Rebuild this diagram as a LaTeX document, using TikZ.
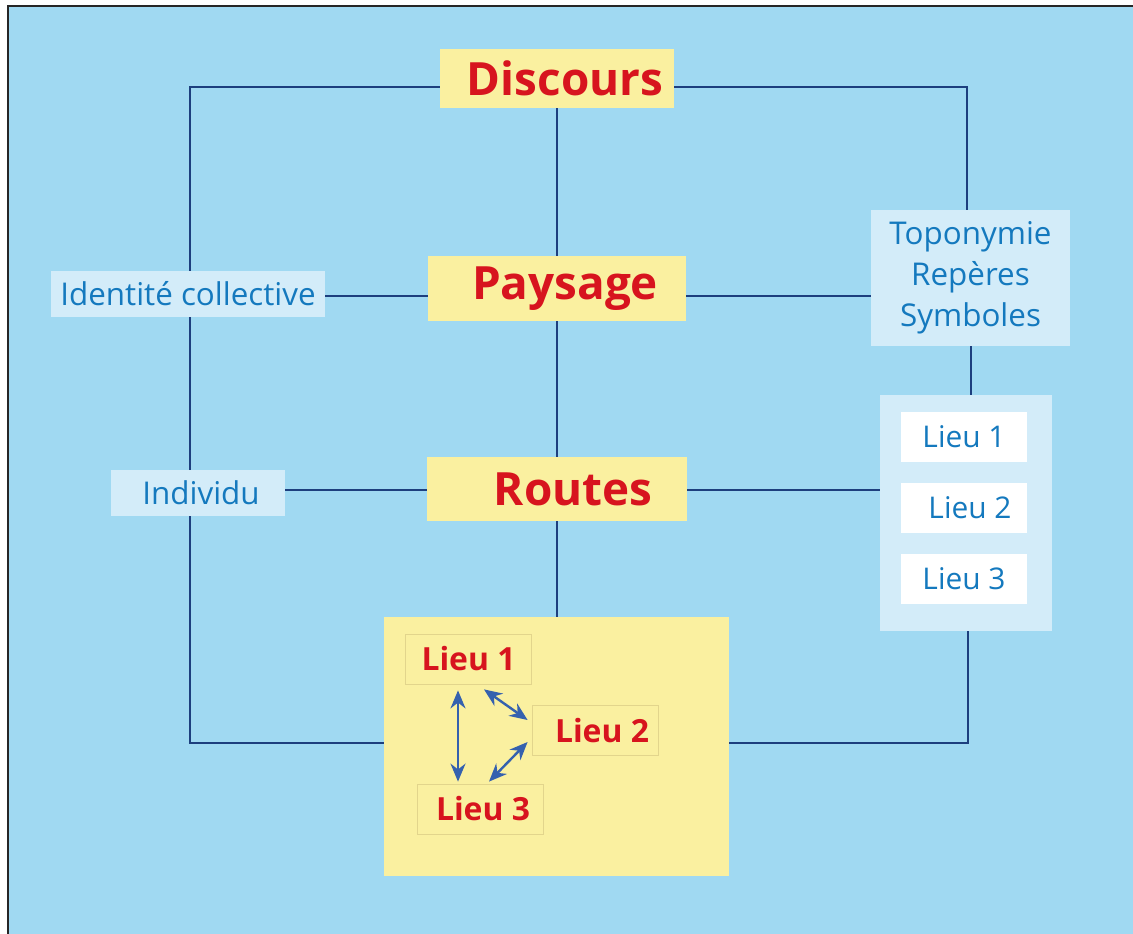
\documentclass[tikz,border=0pt]{standalone}
\usepackage{fontspec}
\setmainfont{Open Sans}
\usetikzlibrary{arrows.meta,calc}
\definecolor{bgblue}{HTML}{A0D9F2}
\definecolor{yel}{HTML}{FAF0A0}
\definecolor{lbox}{HTML}{D3ECF9}
\definecolor{tblue}{HTML}{1479BE}
\definecolor{tred}{HTML}{D7141E}
\definecolor{navy}{HTML}{1D3F7E}
\definecolor{arrblue}{HTML}{3561AE}
\definecolor{tan}{HTML}{E2D58C}
\pgfdeclarelayer{back}
\pgfdeclarelayer{mid}
\pgfsetlayers{back,mid,main}
\begin{document}
\begin{tikzpicture}[x=1bp,y=-1bp,
  mainbox/.style={fill=yel, inner sep=0pt, text=tred, font=\fontsize{46}{46}\selectfont\bfseries},
  bluebox/.style={fill=lbox, inner sep=0pt, text=tblue, font=\fontsize{31.5}{41}\selectfont},
  whitebox/.style={fill=white, inner sep=0pt, text=tblue, font=\fontsize{30}{30}\selectfont, minimum width=126bp, minimum height=50bp},
  redbox/.style={fill=yel, draw=tan, line width=0.8bp, inner sep=0pt, text=tred, font=\fontsize{32}{32}\selectfont\bfseries, minimum width=126bp, minimum height=50bp},
  conn/.style={draw=navy, line width=2bp},
  dbl/.style={draw=arrblue, line width=2.4bp, {Stealth[length=18bp,width=15bp]}-{Stealth[length=18bp,width=15bp]}}
]
\useasboundingbox (0,0) rectangle (1133,934);
\begin{pgfonlayer}{back}
\fill[white] (0,0) rectangle (1133,934);
\fill[bgblue] (8,6) rectangle (1140,940);
\draw[line width=2.2bp, black!85] (8,945) -- (8,6) -- (1140,6);
\end{pgfonlayer}

% main boxes
\node[mainbox, minimum width=234bp, minimum height=59bp] (disc) at (557,78.5) {\hspace*{16bp}Discours};
\node[mainbox, minimum width=258bp, minimum height=65bp] (pay) at (557,288.5) {\hspace*{16bp}Paysage};
\node[mainbox, minimum width=260bp, minimum height=64bp] (rou) at (557,489) {\hspace*{32bp}Routes};

% left boxes
\node[bluebox, minimum width=274bp, minimum height=46bp] (ic) at (188,294) {Identité collective};
\node[bluebox, minimum width=174bp, minimum height=46bp] (ind) at (198,493) {\hspace*{6bp}Individu};

% right boxes
\node[bluebox, minimum width=199bp, minimum height=136bp, align=center] (topo) at (970.5,278) {Toponymie\\Repères\\Symboles};
\node[fill=lbox, inner sep=0pt, minimum width=172bp, minimum height=236bp] (lcol) at (966,513) {};
\node[whitebox] (w1) at (964,437) {Lieu 1};
\node[whitebox] (w2) at (964,508) {\hspace*{12bp}Lieu 2};
\node[whitebox] (w3) at (964,579) {Lieu 3};

% bottom box
\node[fill=yel, inner sep=0pt, minimum width=345bp, minimum height=259bp] (ybox) at (556.5,746.5) {};
\node[redbox] (r1) at (468.5,659) {Lieu 1};
\node[redbox] (r2) at (595,730.5) {\hspace*{14bp}Lieu 2};
\node[redbox] (r3) at (480,809) {\hspace*{6bp}Lieu 3};

% connectors
\begin{pgfonlayer}{mid}
\draw[conn] (disc.west |- 0,87) -- (190,87) coordinate (tl) -- (190,743) coordinate (bl) -- (ybox.west |- bl);
\draw[conn] (disc.east |- 0,87) -- (967,87) coordinate (tr) -- (tr |- topo.north);
\draw[conn] (disc.south) -- (pay.north);
\draw[conn] (pay.south) -- (rou.north);
\draw[conn] (rou.south) -- (ybox.north -| rou.south);
\draw[conn] (ic.east |- 0,296) -- (pay.west |- 0,296);
\draw[conn] (pay.east |- 0,296) -- (topo.west |- 0,296);
\draw[conn] (ind.east |- 0,490) -- (rou.west |- 0,490);
\draw[conn] (rou.east |- 0,490) -- (lcol.west |- 0,490);
\draw[conn] (topo.south) -- (lcol.north -| topo.south);
\draw[conn] (lcol.south -| 968,0) -- (968,743) coordinate (br) -- (ybox.east |- br);
\end{pgfonlayer}

% arrows
\draw[dbl] ($(r1.south)+(-10.5,6)$) -- ($(r3.north)+(-22,-2)$);
\draw[dbl] ($(r1.south)+(15.5,5)$) -- ($(r2.west)+(-4,-10.5)$);
\draw[dbl] ($(r2.west)+(-4,11.5)$) -- ($(r3.north)+(9,-2)$);
\end{tikzpicture}
\end{document}
